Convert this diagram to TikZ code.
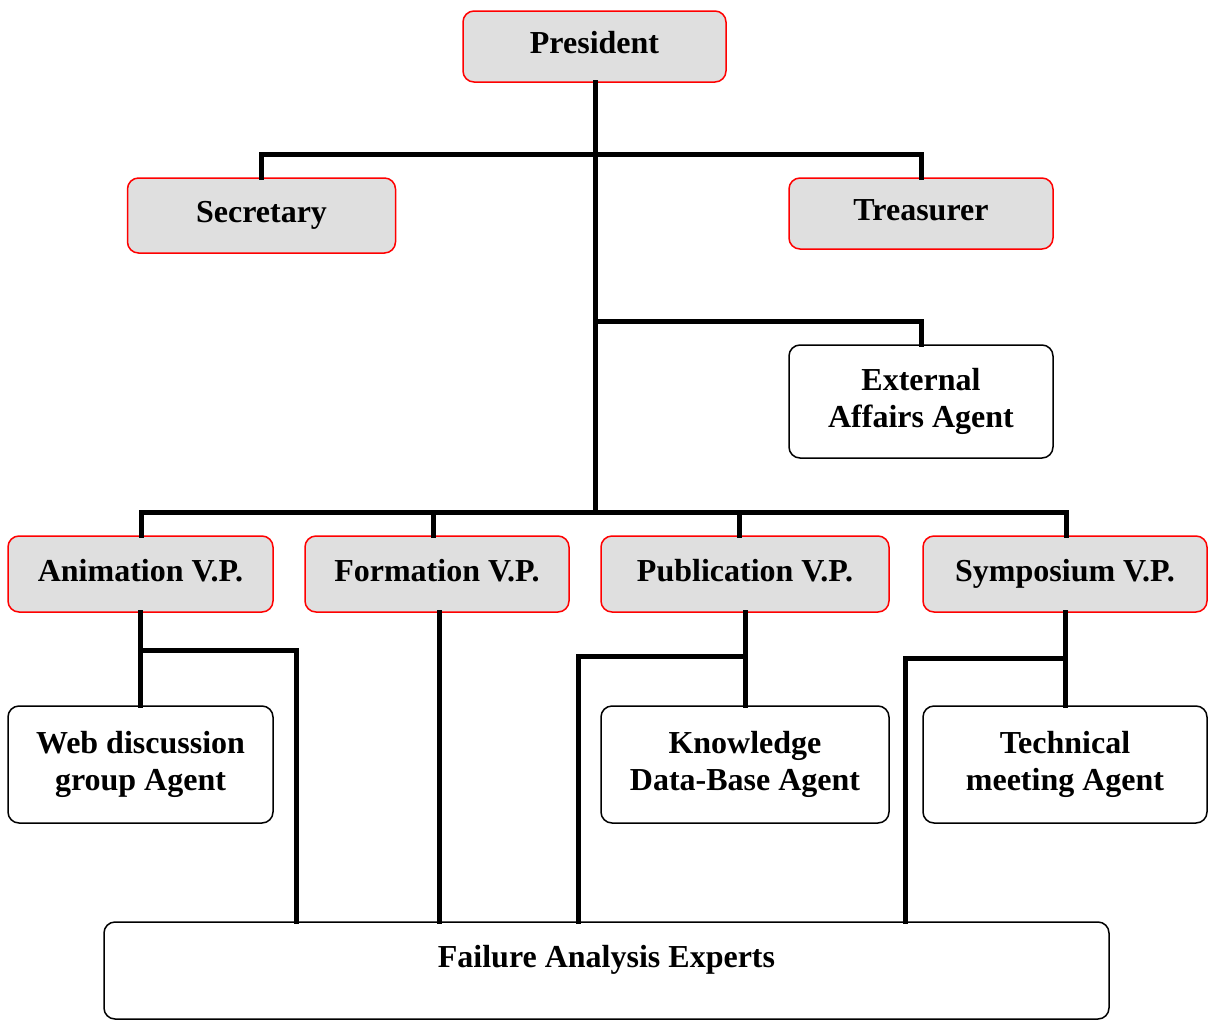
\documentclass[tikz,border=0pt]{standalone}
\usepackage{fontspec}
\setmainfont{Liberation Serif}
\usetikzlibrary{calc}
\begin{document}
\begin{tikzpicture}[x=1pt,y=-1pt,
  box/.style={draw, rounded corners=11pt, line width=1.5pt, inner sep=0pt,
    align=center, font=\bfseries\fontsize{32}{37}\selectfont},
  officer/.style={box, draw=red, fill=gray!25},
  agent/.style={box, draw=black, fill=white},
  oneline/.style={text height=22pt, text depth=8pt},
  link/.style={line width=5pt, line cap=rect}
]
\useasboundingbox (0,0) rectangle (1208,1023);

% nodes
\node[officer, oneline, minimum width=263pt, minimum height=71pt] (pres) at (594.5,46.5) {President};
\node[officer, oneline, minimum width=268pt, minimum height=75pt] (sec) at (261.5,215.5) {Secretary};
\node[officer, oneline, minimum width=264pt, minimum height=71pt] (tre) at (921,213.5) {Treasurer};
\node[agent, minimum width=264pt, minimum height=113pt] (ext) at (921,401.5) {External\\Affairs Agent};

\node[officer, oneline, minimum width=265pt, minimum height=76pt] (ani) at (140.5,574) {Animation V.P.};
\node[officer, oneline, minimum width=264pt, minimum height=76pt] (for) at (437,574) {Formation V.P.};
\node[officer, oneline, minimum width=288pt, minimum height=76pt] (pub) at (745,574) {Publication V.P.};
\node[officer, oneline, minimum width=284pt, minimum height=76pt] (sym) at (1065,574) {Symposium V.P.};

\node[agent, minimum width=265pt, minimum height=117pt] (web) at (140.5,764.5) {Web discussion\\group Agent};
\node[agent, minimum width=288pt, minimum height=117pt] (kno) at (745,764.5) {Knowledge\\Data-Base Agent};
\node[agent, minimum width=284pt, minimum height=117pt] (tec) at (1065,764.5) {Technical\\meeting Agent};

\node[agent, minimum width=1005pt, minimum height=97pt] (fae) at (606.5,970.5) {};
\node[font=\bfseries\fontsize{32}{37}\selectfont, oneline, inner sep=0pt] (faetext) at ($(fae.center)+(0,-10)$) {Failure Analysis Experts};

% junction coordinates
\coordinate (j1) at (595,154);
\coordinate (j2) at (595,321);
\coordinate (j3) at (595,512);
\coordinate (a1) at (140.5,650);
\coordinate (a2) at (296,650);
\coordinate (p1) at (745,656);
\coordinate (p2) at (578,656);
\coordinate (s1) at (1065,658);
\coordinate (s2) at (905,658);

% connectors
\draw[link] ([xshift=0.5pt]pres.south) -- (j3);
\draw[link] (sec.north) |- (j1) -| (tre.north);
\draw[link] (j2) -| (ext.north);
\draw[link] ([xshift=1pt]ani.north) |- (j3) -| ([xshift=1pt]sym.north);
\draw[link] ([xshift=-3.5pt]for.north) -- ([xshift=-3.5pt]for.north |- j3);
\draw[link] ([xshift=-6pt]pub.north) -- ([xshift=-6pt]pub.north |- j3);

\draw[link] (ani.south) -- (web.north);
\draw[link] (a1) -- (a2) -- (a2 |- fae.north);
\draw[link] ([xshift=2pt]for.south) -- ([xshift=2pt]for.south |- fae.north);
\draw[link] (pub.south) -- (kno.north);
\draw[link] (p1) -- (p2) -- (p2 |- fae.north);
\draw[link] (sym.south) -- (tec.north);
\draw[link] (s1) -- (s2) -- (s2 |- fae.north);
\end{tikzpicture}
\end{document}
